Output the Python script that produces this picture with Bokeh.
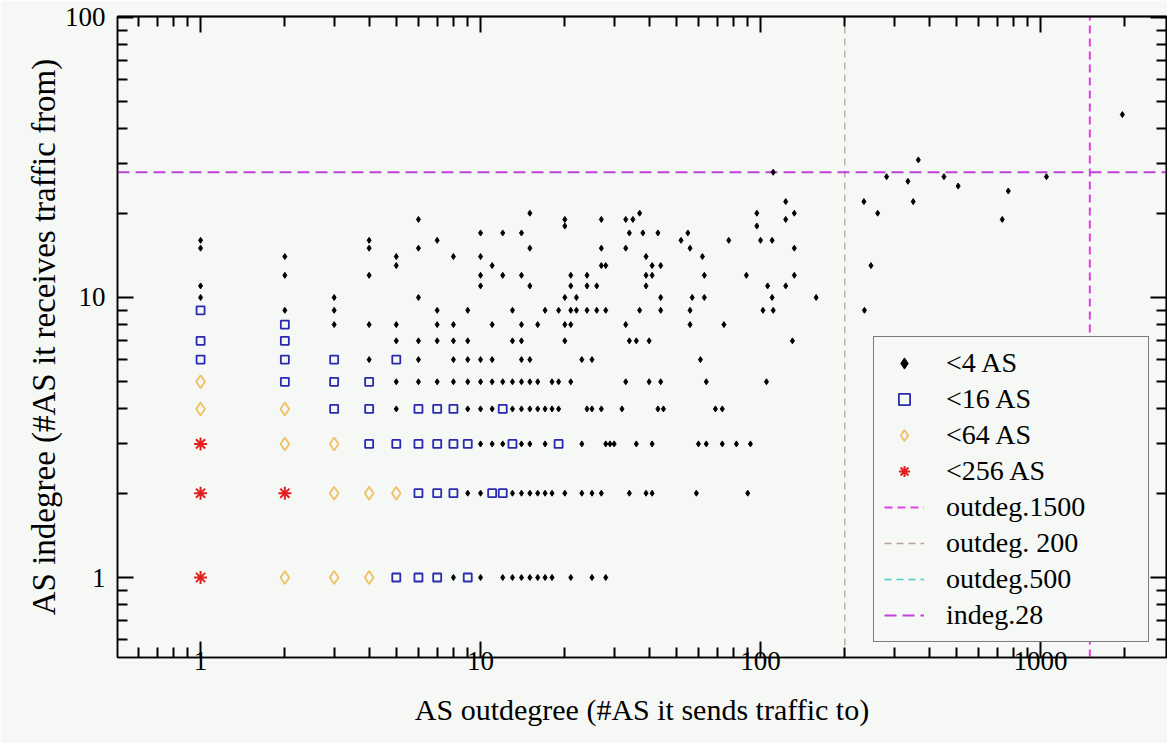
from bokeh.plotting import figure
from bokeh.models import LogAxis, FixedTicker, NumeralTickFormatter, Legend, LegendItem
from bokeh.embed import file_html
from bokeh.resources import INLINE

# ---------------- data ----------------
# "<4 AS": outdegree values found at each indegree
lt4_at_y1 = [8, 10, 12, 13, 14, 15, 16, 17, 18, 21, 25, 28]
lt4_at_y2 = [9, 10, 13, 14, 15, 16, 17, 18, 20, 23, 25, 27, 34, 39, 41, 59, 90]
lt4_at_y3 = [10, 11, 12, 14, 15, 17, 23, 28, 29, 30, 36, 41, 60, 64, 73, 82, 92]
lt4_at_y4 = [5, 9, 10, 11, 13, 14, 15, 16, 17, 18, 19, 24, 25, 27, 32, 43, 45, 69, 73]
lt4_at_y5 = [5, 6, 7, 8, 9, 10, 11, 12, 13, 14, 15, 16, 18, 19, 21, 33, 40, 44, 64, 105]
lt4_at_y6 = [4, 6, 8, 9, 10, 11, 14, 15, 23, 25, 61]
lt4_at_y7 = [5, 6, 7, 8, 9, 13, 14, 20, 34, 36, 40, 130]
lt4_at_y8 = [3, 4, 5, 7, 8, 11, 14, 16, 20, 21, 33, 56, 74]
lt4_at_y9 = [2, 3, 7, 9, 13, 17, 19, 21, 22, 24, 26, 28, 37, 44, 56, 102, 111, 235]
lt4_at_y10 = [1, 3, 6, 20, 22, 44, 57, 63, 110, 158]
lt4_at_y11 = [1, 10, 15, 21, 24, 26, 39, 106, 123]
lt4_at_y12 = [2, 4, 10, 12, 14, 21, 24, 39, 41, 63, 89, 132]
lt4_at_y13 = [5, 11, 27, 28, 41, 44, 248]
lt4_at_y14 = [2, 5, 8, 10, 39, 62]
lt4_at_y15 = [1, 4, 6, 15, 27, 33, 56, 132]
lt4_at_y16 = [1, 4, 7, 52, 77, 100, 110]
lt4_at_y17 = [10, 12, 14, 34, 38, 43, 55]
lt4_at_y18 = [20, 97]
lt4_at_y19 = [6, 20, 27, 33, 35, 123, 730]
lt4_at_y20 = [15, 37, 97, 132, 262]
lt4_at_y22 = [123, 234, 351]
lt4_upper_x = [767, 508, 336, 282, 452, 1050, 111, 366, 1960]
lt4_upper_y = [24, 25, 26, 27, 27, 27, 28, 31, 45]

lt16_x = [1, 1, 1, 2, 2, 2, 2, 3, 3, 3, 4, 4, 4, 5, 5, 5, 6, 6, 6, 6, 7, 7, 7, 7, 8, 8, 8, 9, 9, 11, 12, 12, 13, 19]
lt16_y = [6, 7, 9, 5, 6, 7, 8, 4, 5, 6, 3, 4, 5, 1, 3, 6, 1, 2, 3, 4, 1, 2, 3, 4, 2, 3, 4, 1, 3, 2, 2, 4, 3, 3]

lt64_x = [1, 1, 2, 2, 2, 3, 3, 3, 4, 4, 5]
lt64_y = [4, 5, 1, 3, 4, 1, 2, 3, 1, 2, 2]

lt256_x = [1, 1, 1, 2]
lt256_y = [1, 2, 3, 2]

outdeg_marks = [1500, 200, 500]
indeg_mark = 28

x_major = [1, 10, 100, 1000]
y_major = [1, 10, 100]

lt4_rows = [
    (1, lt4_at_y1), (2, lt4_at_y2), (3, lt4_at_y3), (4, lt4_at_y4), (5, lt4_at_y5),
    (6, lt4_at_y6), (7, lt4_at_y7), (8, lt4_at_y8), (9, lt4_at_y9), (10, lt4_at_y10),
    (11, lt4_at_y11), (12, lt4_at_y12), (13, lt4_at_y13), (14, lt4_at_y14),
    (15, lt4_at_y15), (16, lt4_at_y16), (17, lt4_at_y17), (18, lt4_at_y18),
    (19, lt4_at_y19), (20, lt4_at_y20), (22, lt4_at_y22),
]
lt4_x, lt4_y = [], []
for yv, xs in lt4_rows:
    lt4_x += xs
    lt4_y += [yv] * len(xs)
lt4_x += lt4_upper_x
lt4_y += lt4_upper_y

# ---------------- figure ----------------
X_RANGE = (0.505, 2818)
Y_RANGE = (0.518, 100.8)
BG = "#f5f8f5"
SERIF = "Liberation Serif"

p = figure(width=1167, height=743, x_axis_type="log", y_axis_type="log",
           x_range=X_RANGE, y_range=Y_RANGE, output_backend="svg",
           toolbar_location=None, min_border_left=117, min_border_right=1,
           min_border_top=16, min_border_bottom=86,
           background_fill_color=BG, border_fill_color=BG)
p.grid.visible = False
p.outline_line_color = "black"
p.outline_line_width = 1.5

x_minor = [0.6, 0.7, 0.8, 0.9] + [k * 10 ** e for e in range(0, 4) for k in range(2, 10)]
y_minor = [0.6, 0.7, 0.8, 0.9] + [k * 10 ** e for e in range(0, 2) for k in range(2, 10)]


def style_ticks(ax, ticks, minor, tick_len):
    ax.ticker = FixedTicker(ticks=ticks, minor_ticks=minor)
    ax.axis_line_color = "black"
    ax.axis_line_width = 1.5
    ax.major_tick_in = 16
    ax.major_tick_out = 0
    ax.minor_tick_in = tick_len
    ax.minor_tick_out = 0
    ax.major_tick_line_width = 2
    ax.minor_tick_line_width = 2
    ax.major_tick_line_color = "black"
    ax.minor_tick_line_color = "black"


def style_labels(ax, label, size, standoff, label_standoff):
    ax.formatter = NumeralTickFormatter(format="0")
    ax.major_label_text_font = SERIF
    ax.major_label_text_font_size = "27px"
    ax.major_label_text_color = "black"
    ax.major_label_standoff = standoff
    ax.axis_label = label
    ax.axis_label_text_font = SERIF
    ax.axis_label_text_font_style = "normal"
    ax.axis_label_text_color = "black"
    ax.axis_label_text_font_size = size
    ax.axis_label_standoff = label_standoff


xa = p.xaxis[0]
style_ticks(xa, x_major, x_minor, 10)
style_labels(xa, "AS outdegree (#AS it sends traffic to)", "30px", -6, 20)

ya = p.yaxis[0]
style_ticks(ya, y_major, y_minor, 10)
style_labels(ya, "AS indegree (#AS it receives traffic from)", "33px", 12, 0)

# mirrored ticks on top / right: label-free axes (long ticks + short ticks)
for side, major, minor in (("above", x_major, x_minor), ("right", y_major, y_minor)):
    long_ax = LogAxis()
    style_ticks(long_ax, [], major, 16)
    p.add_layout(long_ax, side)
    short_ax = LogAxis()
    style_ticks(short_ax, [], minor, 10)
    p.add_layout(short_ax, side)

# ---------------- glyphs ----------------
r_1500 = p.line(x=[outdeg_marks[0]] * 2, y=list(Y_RANGE), line_color="#e040e0",
                line_dash="8 5", line_width=2)
r_200 = p.line(x=[outdeg_marks[1]] * 2, y=list(Y_RANGE), line_color="#b8a0a0",
               line_dash="7 5", line_width=1.3)
r_500 = p.line(x=[outdeg_marks[2]] * 2, y=[float("nan")] * 2, line_color="#40d0d0",
               line_dash="7 5", line_width=1.5)
r_28 = p.line(x=list(X_RANGE), y=[indeg_mark] * 2, line_color="#c040d8",
              line_dash="12 6", line_width=2)

r4 = p.scatter(lt4_x, lt4_y, marker="diamond", size=6, color="black")
r16 = p.scatter(lt16_x, lt16_y, marker="square", size=8, fill_color=None,
                line_color="#2a2ab0", line_width=1.8)
r64 = p.scatter(lt64_x, lt64_y, marker="diamond", size=13, fill_color=None,
                line_color="#f0c060", line_width=1.8)
r256 = p.scatter(lt256_x, lt256_y, marker="asterisk", size=13,
                 line_color="#e02020", line_width=2)

legend = Legend(items=[
    LegendItem(label="<4 AS", renderers=[r4]),
    LegendItem(label="<16 AS", renderers=[r16]),
    LegendItem(label="<64 AS", renderers=[r64]),
    LegendItem(label="<256 AS", renderers=[r256]),
    LegendItem(label="outdeg.1500", renderers=[r_1500]),
    LegendItem(label="outdeg. 200", renderers=[r_200]),
    LegendItem(label="outdeg.500", renderers=[r_500]),
    LegendItem(label="indeg.28", renderers=[r_28]),
], location=(756, 15), orientation="vertical")
legend.margin = 0
legend.padding = 10
legend.spacing = 4
legend.glyph_width = 40
legend.glyph_height = 28
legend.label_height = 28
legend.label_width = 192
legend.label_standoff = 22
legend.label_text_font = SERIF
legend.label_text_font_size = "28px"
legend.label_text_color = "black"
legend.background_fill_color = BG
legend.background_fill_alpha = 1
legend.border_line_color = "black"
legend.border_line_width = 1.5
p.add_layout(legend, "center")

open("out.html", "w").write(file_html(p, INLINE))
